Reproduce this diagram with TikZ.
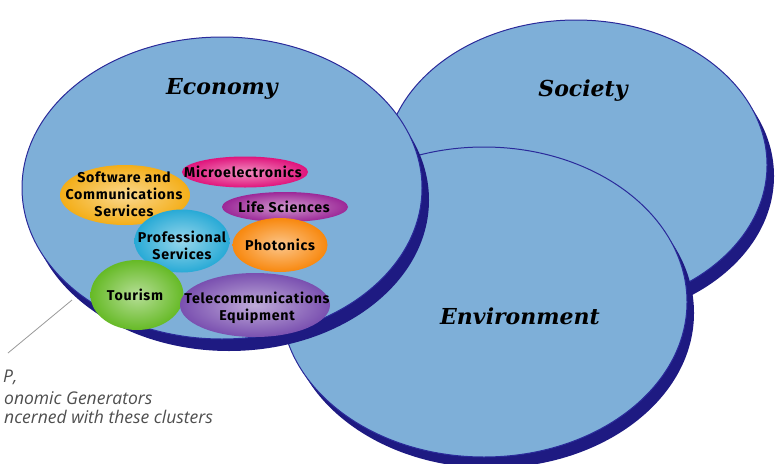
\documentclass[tikz,border=0pt]{standalone}
\usepackage{fontspec}
\setmainfont{DejaVu Serif}
\newfontfamily\clusterfont{Fira Sans}[LetterSpace=5]
\newfontfamily\notefont{Open Sans}
\newfontfamily\titlefont{DejaVu Serif}
\usetikzlibrary{shapes.geometric}
\definecolor{skyb}{HTML}{7EAFD8}
\definecolor{navyrim}{HTML}{1E1A82}
\definecolor{navyline}{HTML}{2A2A9A}
\definecolor{cyellow}{HTML}{F4AE18}
\definecolor{cmagenta}{HTML}{E0147C}
\definecolor{cpurple}{HTML}{9C2898}
\definecolor{ccyan}{HTML}{28AAD6}
\definecolor{corange}{HTML}{F8880E}
\definecolor{cgreen}{HTML}{66BA26}
\definecolor{clav}{HTML}{7A50B0}
\definecolor{notegrey}{HTML}{4E4E4E}
\tikzset{
  rimfill/.style={fill=navyrim},
  bigfill/.style={fill=skyb, draw=navyline, line width=1pt},
  bigtitle/.style={font=\titlefont\bfseries\itshape\fontsize{22}{26}\selectfont, text=black, inner sep=0pt},
  blob/.style={ellipse, inner sep=0pt, draw=none, shade, inner color=#1!48!white, outer color=#1},
  ctext/.style={font=\clusterfont\bfseries\fontsize{14.2}{17}\selectfont, align=center, text=black, inner sep=0pt},
  note/.style={font=\notefont\itshape\fontsize{17.5}{20}\selectfont, text=notegrey, anchor=west, inner sep=0pt},
  leader/.style={draw=gray!80, line width=0.8pt}
}
\begin{document}
\begin{tikzpicture}[x=1pt,y=-1pt]
\useasboundingbox (0,0) rectangle (775,463);
\clip (0,0) rectangle (775,463);
% Society
\fill[rimfill] (583,176) ellipse [x radius=191pt, y radius=145pt];
\filldraw[bigfill] (576,165) ellipse [x radius=191pt, y radius=145pt];
% Environment
\fill[rimfill] (491,313) ellipse [x radius=203pt, y radius=155pt];
\filldraw[bigfill] (484,302) ellipse [x radius=203pt, y radius=155pt];
% Economy
\fill[rimfill] (229,200) ellipse [x radius=200pt, y radius=151pt];
\filldraw[bigfill] (222,188) ellipse [x radius=200pt, y radius=151pt];
% titles
\node[bigtitle] (eco) at (222,89) {Economy};
\node[bigtitle] (soc) at (583,91) {Society};
\node[bigtitle] (env) at (520,316) {Environment};
% clusters
\node[blob=cyellow, minimum width=130pt, minimum height=60pt] (sw) at (125,195) {};
\node[ctext] (swt) at (124,194) {Software and\\Communications\\Services};
\node[blob=cmagenta, minimum width=126pt, minimum height=31pt] (mi) at (245,172) {};
\node[ctext] (mit) at (243,172) {Microelectronics};
\node[blob=cpurple, minimum width=126pt, minimum height=30pt] (ls) at (285,207) {};
\node[ctext] (lst) at (284,207) {Life Sciences};
\node[blob=ccyan, minimum width=95pt, minimum height=63pt] (ps) at (182,241) {};
\node[ctext] (pst) at (182,245) {Professional\\Services};
\node[blob=corange, minimum width=95pt, minimum height=54pt] (ph) at (280,245) {};
\node[ctext] (pht) at (280,245) {Photonics};
\node[blob=cgreen, minimum width=93pt, minimum height=70pt] (to) at (137,295) {};
\node[ctext] (tot) at (135,295) {Tourism};
\node[blob=clav, minimum width=150pt, minimum height=64pt] (te) at (255,305) {};
\node[ctext] (tet) at (257,308) {Telecommunications\\Equipment};
% leader and note
\coordinate (leadA) at (8,353);
\coordinate (leadB) at (72,300);
\draw[leader] (leadA) -- (leadB);
\node[note] (n1) at (3,377) {P,};
\node[note] (n2) at (4,398) {onomic Generators};
\node[note] (n3) at (4,417) {ncerned with these clusters};
\end{tikzpicture}
\end{document}
